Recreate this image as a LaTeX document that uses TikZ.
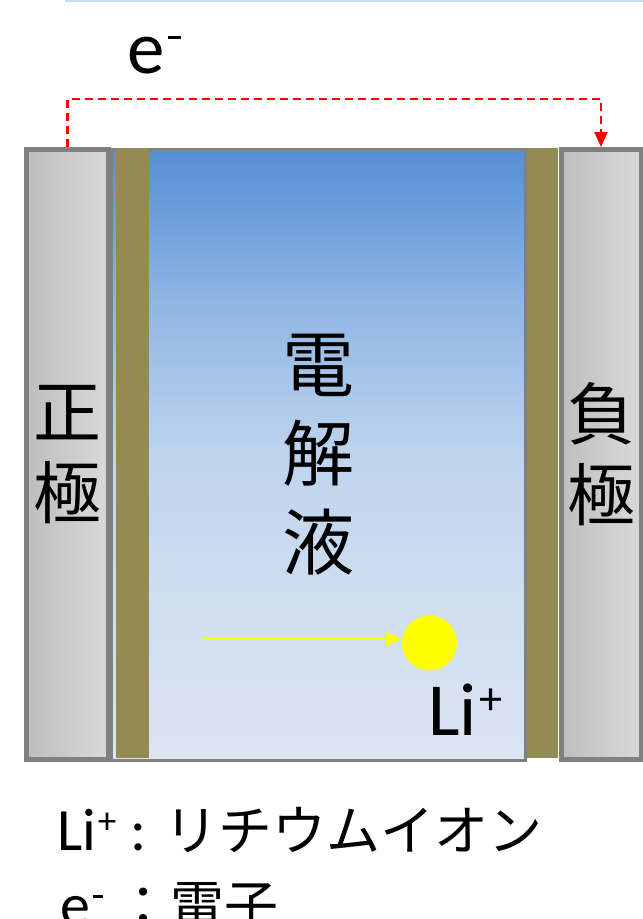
\documentclass[tikz,border=0pt]{standalone}
\usepackage{fontspec}
\usepackage{graphicx}
\setmainfont{Carlito}
\newfontfamily\jp{Noto Sans CJK JP}
\usetikzlibrary{arrows.meta}
\newcommand{\supplus}{\hspace{0.03em}\raisebox{0.28em}{\scalebox{0.62}{+}}}
\newcommand{\supminus}{\hspace{0.05em}\rule[0.45em]{0.17em}{0.045em}}
\definecolor{edgegray}{RGB}{128,128,128}
\definecolor{sepolive}{RGB}{148,138,84}
\definecolor{elA}{RGB}{85,142,213}
\definecolor{elB}{RGB}{140,180,227}
\definecolor{elC}{RGB}{190,212,238}
\definecolor{elD}{RGB}{207,222,240}
\definecolor{elE}{RGB}{219,229,242}
\definecolor{mL}{RGB}{190,190,190}
\definecolor{mR}{RGB}{217,217,217}
\definecolor{topblue}{RGB}{200,222,242}
\definecolor{ionyellow}{RGB}{255,255,0}
\pgfdeclareverticalshading{electrolyteshade}{100bp}{color(0bp)=(elE); color(25bp)=(elE); color(38bp)=(elD); color(50bp)=(elC); color(63bp)=(elB); color(75bp)=(elA); color(100bp)=(elA)}
\pgfdeclarehorizontalshading{metalshade}{100bp}{color(0bp)=(mL); color(25bp)=(mL); color(75bp)=(mR); color(100bp)=(mR)}
\tikzset{
  electrode/.style={draw=edgegray, line width=5pt, shading=metalshade, rectangle, inner sep=0pt, align=center, font=\jp\fontsize{68}{81}\selectfont},
  electrolytebox/.style={draw=edgegray, line width=3pt, shading=electrolyteshade, rectangle, inner sep=0pt, align=center, font=\jp\fontsize{72}{89}\selectfont},
  separator/.style={fill=sepolive, draw=none, rectangle, inner sep=0pt},
  edash/.style={draw=red, line width=2.2pt, dash pattern=on 8pt off 5pt, -{Triangle[length=15pt,width=13pt]}},
  ionarrow/.style={draw=ionyellow, line width=2.8pt, -{Triangle[length=16pt,width=13pt]}},
  ion/.style={circle, fill=ionyellow, draw=none, minimum size=55pt, inner sep=0pt},
  bigtxt/.style={inner sep=0pt, font=\fontsize{75}{80}\selectfont},
  legendtxt/.style={inner sep=0pt, anchor=base west, font=\fontsize{60}{70}\selectfont}
}
\begin{document}
\begin{tikzpicture}[x=1pt,y=-1pt]
\useasboundingbox (0,0) rectangle (643,919);
\draw[topblue, line width=2pt] (65,1) -- (643,1);
% electrolyte
\node[electrolytebox, minimum width=414pt, minimum height=611pt] (elec) at (318.5,454.5) {電\\解\\液};
% separators
\node[separator, minimum width=33pt, minimum height=610pt] (sepL) at (132.5,453) {};
\node[separator, minimum width=31pt, minimum height=610pt] (sepR) at (542.5,453) {};
% electrodes
\node[electrode, minimum width=82pt, minimum height=610pt] (pos) at (67.5,454.5) {正\\極};
\node[electrode, minimum width=80pt, minimum height=610pt] (neg) at (601,454.5) {負\\極};
% electron flow
\draw[edash] (pos.north) -- ++(0,-48) -| (neg.north);
\node[bigtxt, anchor=base west] (elabel) at (127,73) {e\supminus};
% lithium ion
\node[ion] (li) at (429.5,643) {};
\coordinate (ionstart) at (202,639);
\draw[ionarrow] (ionstart) -- (li.west |- ionstart);
\node[bigtxt, anchor=base west] (lilabel) at (428,735) {Li\supplus};
% legend
\node[legendtxt] (leg1) at (57,850) {Li\supplus\ : {\jp\fontsize{54}{60}\selectfont リチウムイオン}};
\node[legendtxt] (leg2) at (60,925) {e\supminus\ {\jp\fontsize{54}{60}\selectfont ：電子}};
\end{tikzpicture}
\end{document}
